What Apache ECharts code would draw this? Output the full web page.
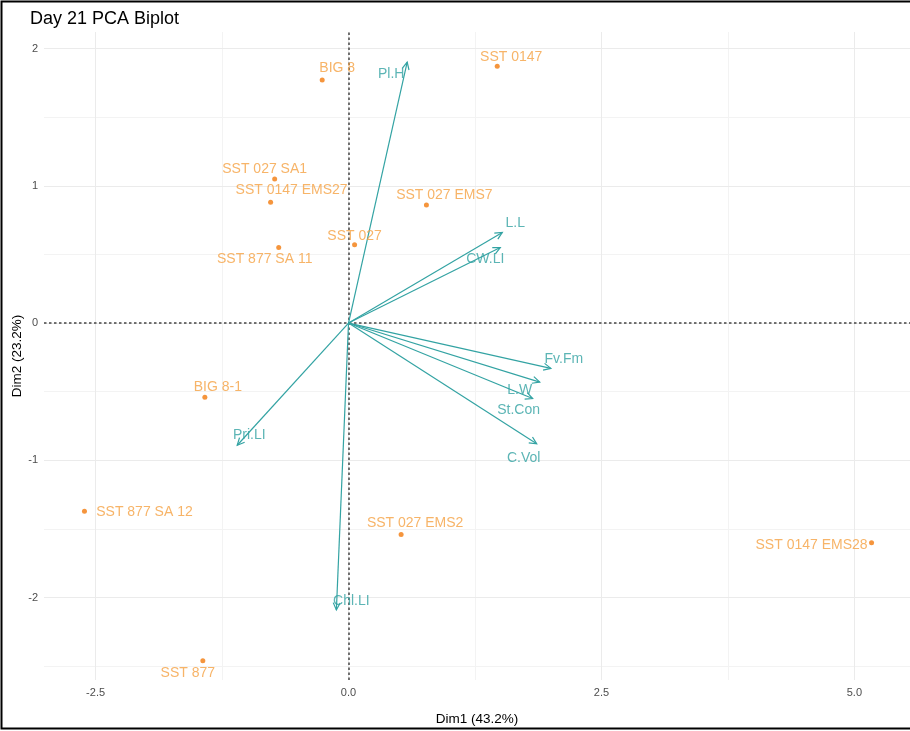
<!DOCTYPE html>
<html>
<head>
<meta charset="utf-8">
<script src="https://cdn.jsdelivr.net/npm/echarts@6/dist/echarts.min.js"></script>
<style>html,body{margin:0;padding:0;background:#fff}#c{width:910px;height:731px}</style>
</head>
<body>
<div id="c"></div>
<script>
// ---- data ----
const indNames = ['BIG 8','SST 0147','SST 027 SA1','SST 0147 EMS27','SST 027 EMS7','SST 027','SST 877 SA 11','BIG 8-1','SST 877 SA 12','SST 027 EMS2','SST 0147 EMS28','SST 877'];
const indDim1 = [-0.26, 1.47, -0.73, -0.77, 0.77, 0.06, -0.69, -1.42, -2.61, 0.52, 5.17, -1.44];
const indDim2 = [1.77, 1.87, 1.05, 0.88, 0.86, 0.57, 0.55, -0.54, -1.37, -1.54, -1.60, -2.46];

const varNames = ['Pl.H','L.L','CW.LI','Fv.Fm','L.W','St.Con','C.Vol','Pri.LI','Chl.LI'];
const varDim1 = [0.58, 1.52, 1.50, 2.00, 1.89, 1.82, 1.86, -1.10, -0.12];
const varDim2 = [1.90, 0.66, 0.55, -0.33, -0.43, -0.55, -0.88, -0.89, -2.09];

const xTicks = [-2.5, 0, 2.5, 5];
const yTicks = [-2, -1, 0, 1, 2];
const xMinorGrid = [-1.25, 1.25, 3.75];
const yMinorGrid = [-2.5, -1.5, -0.5, 0.5, 1.5];

// ---- label placement (style) ----
const indLabelOffset = {
  'BIG 8':[15,-12],'SST 0147':[14,-9],'SST 027 SA1':[-10,-10],'SST 0147 EMS27':[21,-12],
  'SST 027 EMS7':[18,-10],'SST 027':[0,-9],'SST 877 SA 11':[-14,12],'BIG 8-1':[13,-10],
  'SST 877 SA 12':[60,1],'SST 027 EMS2':[14,-11],'SST 0147 EMS28':[-60,2],'SST 877':[-15,12]
};
const varLabelOffset = {
  'Pl.H':[-16,12],'L.L':[13,-9],'CW.LI':[-15,12],'Fv.Fm':[13,-9],'L.W':[-20,8],
  'St.Con':[-14,12],'C.Vol':[-13,14],'Pri.LI':[12,-10],'Chl.LI':[15,-9]
};

const ORANGE_PT = '#F27A0C';
const ORANGE_TX = '#F5A142';
const TEAL = '#33A3A3';
const GRID = '#EBEBEB';
const FONT = 'Liberation Sans';

const chart = echarts.init(document.getElementById('c'));

function gridLines(vals, axis, color) {
  return vals.map(v => ({ [axis]: v, lineStyle: { color: color, width: 1, type: 'solid' } }));
}

const indData = indNames.map((n, i) => ({
  name: n, value: [indDim1[i], indDim2[i]],
  label: { offset: indLabelOffset[n] }
}));
const varData = varNames.map((n, i) => ({ name: n, value: [varDim1[i], varDim2[i]] }));

chart.setOption({
  animation: false,
  graphic: [
    { type: 'rect', shape: { x: 1.5, y: 1.5, width: 920, height: 727 }, style: { fill: 'none', stroke: '#000', lineWidth: 2 }, z: 100 },
    { type: 'text', left: 30, top: 10, style: { text: 'Day 21 PCA Biplot', font: '18px "Liberation Sans", Arial, sans-serif', fill: '#000' } }
  ],
  grid: { left: 44, right: 0, top: 32, bottom: 51, containLabel: false, outerBoundsMode: 'none' },
  xAxis: {
    type: 'value', min: -3.01, max: 5.55,
    name: 'Dim1 (43.2%)', nameLocation: 'middle', nameGap: 32,
    nameTextStyle: { fontSize: 13.5, color: '#000', fontFamily: FONT },
    axisLine: { show: false },
    splitLine: { show: false },
    axisTick: { show: true, customValues: xTicks, length: 3, lineStyle: { color: '#444' } },
    axisLabel: { customValues: xTicks, color: '#4D4D4D', fontSize: 11, margin: 7, fontFamily: FONT,
      formatter: v => v.toFixed(1) }
  },
  yAxis: {
    type: 'value', min: -2.6, max: 2.12,
    name: 'Dim2 (23.2%)', nameLocation: 'middle', nameGap: 20, nameMoveOverlap: false,
    nameTextStyle: { fontSize: 13.5, color: '#000', fontFamily: FONT },
    axisLine: { show: false },
    splitLine: { show: false },
    axisTick: { show: true, customValues: yTicks, length: 3, lineStyle: { color: '#444' } },
    axisLabel: { customValues: yTicks, color: '#4D4D4D', fontSize: 11, margin: 6, fontFamily: FONT,
      formatter: v => String(v) }
  },
  series: [
    {
      type: 'line', data: [], silent: true, z: 0,
      markLine: {
        silent: true, symbol: 'none', label: { show: false }, animation: false,
        data: [].concat(
          gridLines(xMinorGrid, 'xAxis', '#F3F3F3'),
          gridLines(yMinorGrid, 'yAxis', '#F3F3F3'),
          gridLines(xTicks, 'xAxis', GRID),
          gridLines(yTicks, 'yAxis', GRID),
          [{ xAxis: 0, lineStyle: { color: '#444', width: 1.5, type: [2.5, 2.5] } },
           { yAxis: 0, lineStyle: { color: '#444', width: 1.5, type: [2.5, 2.5] } }]
        )
      }
    },
    {
      type: 'custom', z: 5,
      data: varData.map(d => d.value),
      renderItem: function (params, api) {
        const o = api.coord([0, 0]);
        const e = api.coord([api.value(0), api.value(1)]);
        const ang = Math.atan2(e[1] - o[1], e[0] - o[0]);
        const L = 8, a = Math.PI / 7;
        const p1 = [e[0] - L * Math.cos(ang - a), e[1] - L * Math.sin(ang - a)];
        const p2 = [e[0] - L * Math.cos(ang + a), e[1] - L * Math.sin(ang + a)];
        return {
          type: 'group',
          children: [
            { type: 'line', shape: { x1: o[0], y1: o[1], x2: e[0], y2: e[1] }, style: { stroke: TEAL, lineWidth: 1.2 } },
            { type: 'polyline', shape: { points: [p1, e, p2] }, style: { stroke: TEAL, lineWidth: 1.2, fill: null } }
          ]
        };
      }
    },
    {
      type: 'scatter', z: 6, symbolSize: 0,
      data: varData.map(d => ({ name: d.name, value: d.value, label: { offset: varLabelOffset[d.name] } })),
      label: { show: true, position: 'inside', formatter: p => p.name, color: TEAL, fontSize: 14, fontFamily: FONT },
      silent: true
    },
    {
      type: 'scatter', z: 7, symbol: 'circle', symbolSize: 5,
      itemStyle: { color: ORANGE_PT },
      data: indData,
      label: { show: true, position: 'inside', formatter: p => p.name, color: ORANGE_TX, fontSize: 14, fontFamily: FONT },
      silent: true
    }
  ]
});
</script>
</body>
</html>
